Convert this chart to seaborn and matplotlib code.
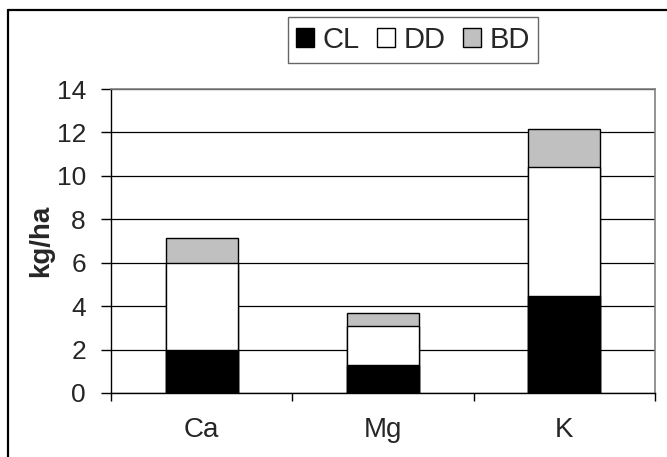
import matplotlib
matplotlib.use("Agg")
import matplotlib.pyplot as plt
import seaborn as sns
import pandas as pd
import numpy as np
from matplotlib.patches import Patch
from matplotlib.lines import Line2D

categories = ["Ca", "Mg", "K"]
cl_values = [2.0, 1.3, 4.45]
dd_values = [4.0, 1.8, 5.95]
bd_values = [1.15, 0.6, 1.75]
series_names = ["CL", "DD", "BD"]
series_colors = ["#000000", "#FFFFFF", "#C0C0C0"]
y_ticks = [0, 2, 4, 6, 8, 10, 12, 14]

sns.set_style("white")
plt.rcParams["font.family"] = ["Liberation Sans", "DejaVu Sans"]

df = pd.DataFrame({"cat": categories, "CL": cl_values, "DD": dd_values, "BD": bd_values})
df["lvl1"] = df["CL"]
df["lvl2"] = df["CL"] + df["DD"]
df["lvl3"] = df["lvl2"] + df["BD"]

fig = plt.figure(figsize=(6.67, 4.57), dpi=100)
ax = fig.add_axes([111/667, 1-393/457, (655-111)/667, (393-89)/457])

# draw from tallest (top segment) to lowest so that stacks appear
for col, color in [("lvl3", series_colors[2]), ("lvl2", series_colors[1]), ("lvl1", series_colors[0])]:
    sns.barplot(data=df, x="cat", y=col, color=color, saturation=1, width=0.396,
                edgecolor="#000000", linewidth=1.0, ax=ax, zorder=3)

ax.set_ylim(0, 14)
ax.set_xlim(-0.5, 2.5)
ax.set_yticks(y_ticks)
ax.set_yticklabels([str(t) for t in y_ticks], fontsize=19)
ax.tick_params(axis="y", direction="out", length=7, width=1, color="black", pad=11, left=True)
ax.tick_params(axis="x", which="major", length=0, pad=17, labelsize=20)
ax.set_xticks([-0.5, 0.5, 1.5, 2.5], minor=True)
ax.tick_params(axis="x", which="minor", direction="out", length=6, width=1, color="black", bottom=True)
ax.set_xlabel("")
ax.set_ylabel("kg/ha", fontsize=20, fontweight="bold", labelpad=2)

ax.grid(axis="y", color="black", linewidth=0.9, zorder=0)
ax.set_axisbelow(True)
for s in ["top", "right"]:
    ax.spines[s].set_color("#808080")
    ax.spines[s].set_linewidth(1.2)
for s in ["left", "bottom"]:
    ax.spines[s].set_color("black")
    ax.spines[s].set_linewidth(1.0)

handles = [Patch(facecolor=c, edgecolor="black", linewidth=1.0) for c in series_colors]
leg = fig.legend(handles, series_names, loc="center", bbox_to_anchor=(413/667, 1-40/457),
                 ncol=3, fontsize=21, frameon=True, fancybox=False, shadow=False,
                 handlelength=0.6, handleheight=0.6, handletextpad=0.3, columnspacing=0.6,
                 borderpad=0.3, borderaxespad=0)
leg.get_frame().set_edgecolor("#404040")
leg.get_frame().set_linewidth(1.0)

# figure border (top and left visible)
fig.add_artist(Line2D([8/667, 1.0], [1-10/457, 1-10/457], color="black", linewidth=1.6, transform=fig.transFigure))
fig.add_artist(Line2D([8/667, 8/667], [0.0, 1-10/457], color="black", linewidth=1.6, transform=fig.transFigure))

fig.savefig("out.png", dpi=100)
